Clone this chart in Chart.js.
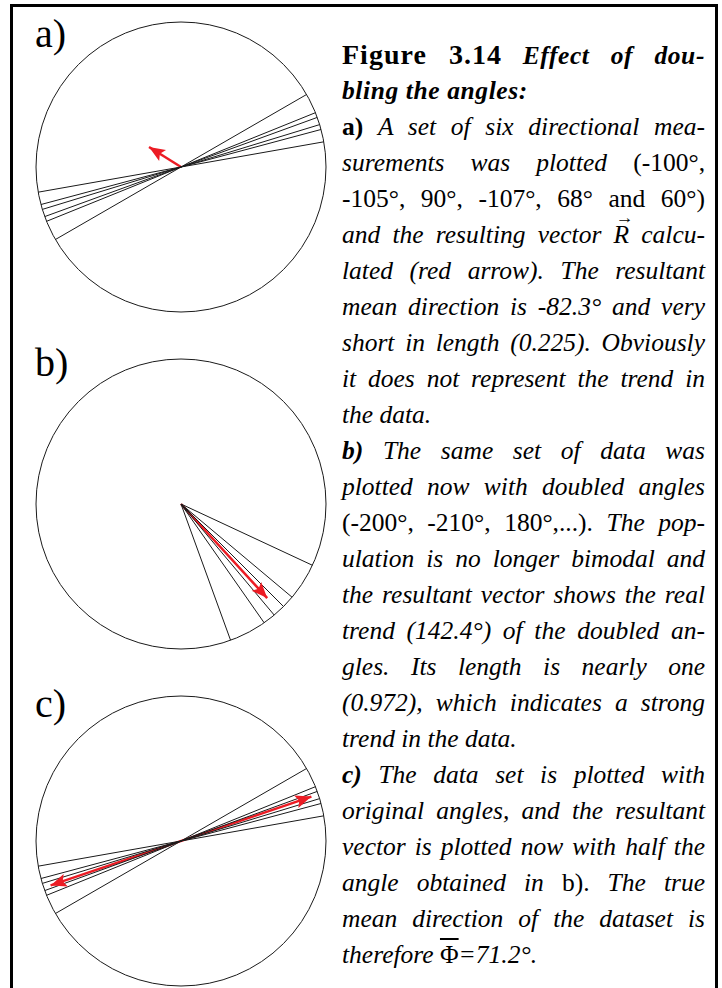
<!DOCTYPE html>
<html>
<head>
<meta charset="utf-8">
<script src="https://cdn.jsdelivr.net/npm/chart.js@4.4.0/dist/chart.umd.min.js"></script>
<style>
html, body { margin: 0; padding: 0; background: #fff; }
body { width: 722px; height: 988px; position: relative; overflow: hidden; }
.frame { position: absolute; left: 10px; top: 4px; width: 708px; height: 1000px; border: 3px solid #000; box-sizing: border-box; }
.panel { position: absolute; left: 31px; width: 300px; height: 300px; }
.label { position: absolute; left: 35px; font-family: "Liberation Serif", serif; font-size: 40px; line-height: 1; }
.caption { position: absolute; left: 342px; top: 37px; width: 363px; font-family: "Liberation Serif", serif; font-size: 25.5px; color: #000; }
.caption div { height: 36px; line-height: 36px; text-align: justify; text-align-last: justify; white-space: nowrap; }
.caption div.last { text-align-last: left; }
.caption i { font-style: italic; }
.fig { font-weight: bold; font-size: 28px; letter-spacing: 1px; }
.bi { font-weight: bold; font-style: italic; letter-spacing: 0.6px; }
.vec { position: relative; display: inline-block; line-height: 1; }
.vec::after { content: "\2192"; position: absolute; left: 0.12em; top: -0.72em; font-size: 0.7em; line-height: 1; font-style: normal; }
.phi { font-style: normal; text-decoration: overline; text-decoration-thickness: 2px; }
</style>
</head>
<body>
<div class="frame"></div>

<div class="label" style="top:14px">a)</div>
<div class="label" style="top:343px">b)</div>
<div class="label" style="top:684px">c)</div>

<div class="panel" style="top:17px"><canvas id="chartA" width="300" height="300"></canvas></div>
<div class="panel" style="top:354px"><canvas id="chartB" width="300" height="300"></canvas></div>
<div class="panel" style="top:691px"><canvas id="chartC" width="300" height="300"></canvas></div>

<div class="caption">
  <div><span class="fig">Figure 3.14</span> <span class="bi">Effect of dou-</span></div>
  <div class="last"><span class="bi">bling the angles:</span></div>
  <div><b>a)</b> <i>A set of six directional mea-</i></div>
  <div><i>surements was plotted</i> (-100°,</div>
  <div>-105°, 90°, -107°, 68° and 60°)</div>
  <div><i>and the resulting vector <span class="vec">R</span> calcu-</i></div>
  <div><i>lated (red arrow). The resultant</i></div>
  <div><i>mean direction is -82.3° and very</i></div>
  <div><i>short in length (0.225). Obviously</i></div>
  <div><i>it does not represent the trend in</i></div>
  <div class="last"><i>the data.</i></div>
  <div><b><i>b)</i></b> <i>The same set of data was</i></div>
  <div><i>plotted now with doubled angles</i></div>
  <div>(-200°, -210°, 180°,...). <i>The pop-</i></div>
  <div><i>ulation is no longer bimodal and</i></div>
  <div><i>the resultant vector shows the real</i></div>
  <div><i>trend (142.4°) of the doubled an-</i></div>
  <div><i>gles. Its length is nearly one</i></div>
  <div><i>(0.972), which indicates a strong</i></div>
  <div class="last"><i>trend in the data.</i></div>
  <div><b><i>c)</i></b> <i>The data set is plotted with</i></div>
  <div><i>original angles, and the resultant</i></div>
  <div><i>vector is plotted now with half the</i></div>
  <div><i>angle obtained in</i> b). <i>The true</i></div>
  <div><i>mean direction of the dataset is</i></div>
  <div class="last"><i>therefore <span class="phi">Φ</span>=71.2°.</i></div>
</div>

<script>
// directions in degrees, clockwise from north
const originalAngles = [60, 68, 70, 73, 75, 80];      // axial lines in a) and c)
const doubledAngles = [115, 130, 135, 140, 145, 160]; // doubled directions in b)
const resultantAngles = [-58, 137.5, 71.2];           // red arrows a), b), c)
const resultantLengths = [0.26, 0.88, 0.95];

const RED = '#ec1c24';
const INK = '#1a1a1a';

function toXY(angle, len) {
  const r = angle * Math.PI / 180;
  return { x: len * Math.sin(r), y: len * Math.cos(r) };
}

// unit circle drawn from the scales
const circlePlugin = {
  id: 'unitCircle',
  beforeDatasetsDraw(chart) {
    const { ctx, scales } = chart;
    const cx = scales.x.getPixelForValue(0);
    const cy = scales.y.getPixelForValue(0);
    const r = scales.x.getPixelForValue(1) - cx;
    ctx.save();
    ctx.beginPath();
    ctx.arc(cx, cy, r, 0, Math.PI * 2);
    ctx.lineWidth = 1;
    ctx.strokeStyle = INK;
    ctx.stroke();
    ctx.restore();
  }
};

const arrowPlugin = {
  id: 'arrowHeads',
  afterDatasetsDraw(chart) {
    const ctx = chart.ctx;
    chart.data.datasets.forEach((ds, i) => {
      if (!ds.arrowHeads) return;
      const pts = chart.getDatasetMeta(i).data;
      const head = (tip, from) => {
        const a = Math.atan2(tip.y - from.y, tip.x - from.x);
        const L = 16, W = 6.5;
        const ux = Math.cos(a), uy = Math.sin(a);
        ctx.beginPath();
        ctx.moveTo(tip.x, tip.y);
        ctx.lineTo(tip.x - L * ux - W * uy, tip.y - L * uy + W * ux);
        ctx.lineTo(tip.x - 0.8 * L * ux, tip.y - 0.8 * L * uy);
        ctx.lineTo(tip.x - L * ux + W * uy, tip.y - L * uy - W * ux);
        ctx.closePath();
        ctx.fill();
      };
      ctx.save();
      ctx.fillStyle = RED;
      const p0 = pts[0], p1 = pts[pts.length - 1];
      head(p1, p0);
      if (ds.arrowHeads === 'both') head(p0, p1);
      ctx.restore();
    });
  }
};

function axialLine(angle) {
  return {
    data: [toXY(angle + 180, 1), toXY(angle, 1)],
    showLine: true, borderColor: INK, borderWidth: 1, pointRadius: 0, clip: false
  };
}
function radialLine(angle) {
  return {
    data: [{ x: 0, y: 0 }, toXY(angle, 1)],
    showLine: true, borderColor: INK, borderWidth: 1, pointRadius: 0, clip: false
  };
}

function makeChart(id, datasets) {
  return new Chart(document.getElementById(id), {
    type: 'scatter',
    data: { datasets: datasets },
    options: {
      responsive: false,
      animation: false,
      devicePixelRatio: 1,
      layout: { padding: 5 },
      scales: {
        x: { type: 'linear', min: -1, max: 1, display: false },
        y: { type: 'linear', min: -1, max: 1, display: false }
      },
      plugins: { legend: { display: false }, tooltip: { enabled: false } }
    },
    plugins: [circlePlugin, arrowPlugin]
  });
}

// a) original angles, short resultant
const dsA = originalAngles.map(axialLine);
dsA.push({
  data: [{ x: 0, y: 0 }, toXY(resultantAngles[0], resultantLengths[0])],
  showLine: true, borderColor: RED, borderWidth: 2.5, pointRadius: 0, arrowHeads: 'end', clip: false
});
makeChart('chartA', dsA);

// b) doubled angles
const dsB = doubledAngles.map(radialLine);
dsB.push({
  data: [{ x: 0, y: 0 }, toXY(resultantAngles[1], resultantLengths[1])],
  showLine: true, borderColor: RED, borderWidth: 2.5, pointRadius: 0, arrowHeads: 'end', clip: false
});
makeChart('chartB', dsB);

// c) original angles with half-angle axis
const dsC = originalAngles.map(axialLine);
dsC.push({
  data: [toXY(resultantAngles[2] + 180, resultantLengths[2]), toXY(resultantAngles[2], resultantLengths[2])],
  showLine: true, borderColor: RED, borderWidth: 2.5, pointRadius: 0, arrowHeads: 'both', clip: false
});
makeChart('chartC', dsC);

// keep every caption line inside the column
document.querySelectorAll('.caption div').forEach(d => {
  let ls = 0;
  while (d.scrollWidth > d.clientWidth && ls > -1.5) {
    ls -= 0.1;
    d.style.letterSpacing = ls + 'px';
  }
});
</script>
</body>
</html>
